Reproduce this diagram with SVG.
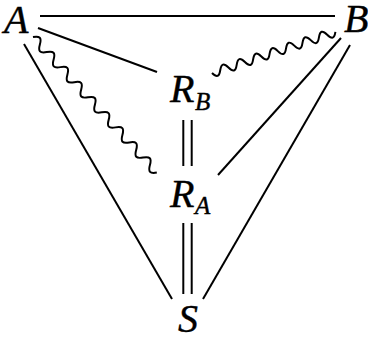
<svg xmlns="http://www.w3.org/2000/svg" width="368" height="338" viewBox="0 0 368 338">
<style>
.lbl{font-family:"Liberation Serif","Times New Roman",serif;font-style:italic;font-size:40px;fill:#000;stroke:#000;stroke-width:0.4}
.sub{font-size:25px}
.e{stroke:#000;stroke-width:2;fill:none;stroke-linecap:butt}
</style>
<rect width="368" height="338" fill="#fff"/>
<g id="edges">
<line class="e" x1="40" y1="16" x2="335" y2="16"/>
<line class="e" x1="38" y1="28" x2="157" y2="72"/>
<line class="e" x1="24" y1="44" x2="172" y2="299"/>
<line class="e" x1="341" y1="38" x2="218" y2="175"/>
<line class="e" x1="350" y1="45" x2="203" y2="299"/>
<line class="e" x1="183.3" y1="120" x2="183.3" y2="166"/>
<line class="e" x1="191.7" y1="120" x2="191.7" y2="166"/>
<line class="e" x1="183.3" y1="223" x2="183.3" y2="294"/>
<line class="e" x1="191.7" y1="223" x2="191.7" y2="294"/>
<path class="e" transform="translate(33,37) rotate(47.6)" d="M0,0 c3.7,-6 6.5,-6 10.2,0 s6.5,6 10.2,0 s6.5,-6 10.2,0 s6.5,6 10.2,0 s6.5,-6 10.2,0 s6.5,6 10.2,0 s6.5,-6 10.2,0 s6.5,6 10.2,0 s6.5,-6 10.2,0 s6.5,6 10.2,0 s6.5,-6 10.2,0 s6.5,6 10.2,0 s6.5,-6 10.2,0 s6.5,6 10.2,0 s6.5,-6 10.2,0 s6.5,6 10.2,0 s6.5,-6 10.2,0 s6.5,6 10.2,0"/>
<path class="e" transform="translate(212,73) rotate(-18.4)" d="M0,0 c3.1,6 5.6,6 8.67,0 s5.6,-6 8.67,0 s5.6,6 8.67,0 s5.6,-6 8.67,0 s5.6,6 8.67,0 s5.6,-6 8.67,0 s5.6,6 8.67,0 s5.6,-6 8.67,0 s5.6,6 8.67,0 s5.6,-6 8.67,0 s5.6,6 8.67,0 s5.6,-6 8.67,0 s5.6,6 8.67,0 s5.6,-6 8.67,0 s5.6,6 8.67,0"/>
</g>
<g id="A"><text class="lbl" x="4" y="33">A</text></g>
<g id="B"><text class="lbl" x="344" y="32">B</text></g>
<g id="RB"><text class="lbl" x="170" y="102">R<tspan class="sub" x="195" y="110">B</tspan></text></g>
<g id="RA"><text class="lbl" x="170" y="207">R<tspan class="sub" x="195" y="214">A</tspan></text></g>
<g id="S"><text class="lbl" x="178" y="332">S</text></g>
</svg>
